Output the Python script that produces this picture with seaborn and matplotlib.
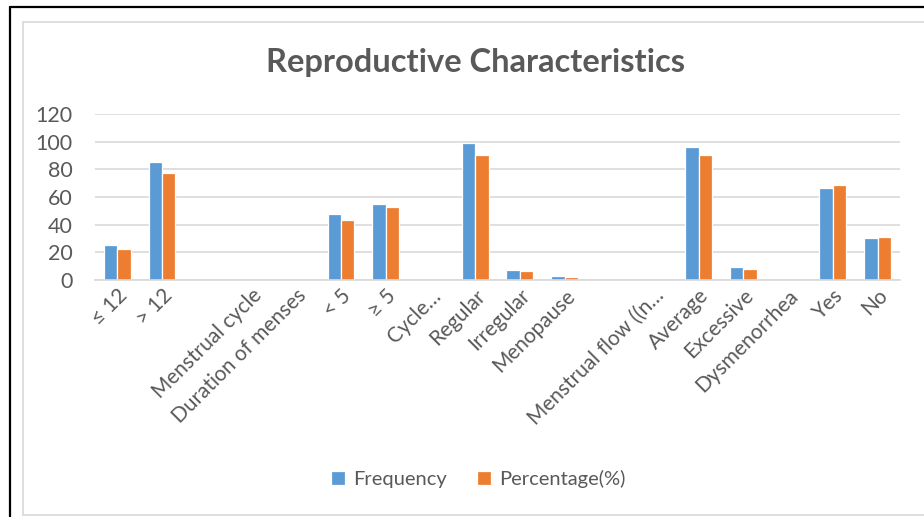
import matplotlib
matplotlib.use("Agg")
import matplotlib.pyplot as plt
import seaborn as sns
import pandas as pd
import numpy as np
from matplotlib.lines import Line2D

categories = ["≤ 12", "> 12", " ", "Menstrual cycle", "Duration of menses", "< 5", "≥ 5",
              "Cycle…", "Regular", "Irregular", "Menopause", "  ", "Menstrual flow ((n…",
              "Average", "Excessive", "Dysmenorrhea", "Yes", "No"]
frequency = [25, 85, np.nan, np.nan, np.nan, 47.5, 55, np.nan, 99.3, 7.5, 3, np.nan, np.nan,
             96.5, 9.2, np.nan, 66.5, 30.2]
percentage = [22.2, 77.6, np.nan, np.nan, np.nan, 43.2, 53, np.nan, 90.2, 6.5, 2.1, np.nan, np.nan,
              90.2, 8.2, np.nan, 68.5, 31.3]
series = ["Frequency", "Percentage(%)"]
yticks = [0, 20, 40, 60, 80, 100, 120]

df = pd.DataFrame({
    "cat": categories * 2,
    "value": frequency + percentage,
    "series": [series[0]] * len(categories) + [series[1]] * len(categories),
})

sns.set_theme(style="white")
plt.rcParams["font.family"] = ["Lato", "DejaVu Sans"]

fig = plt.figure(figsize=(9.24, 5.17), dpi=100)
ax = fig.add_axes([95 / 924, 237 / 517, 805 / 924, 166 / 517])

sns.barplot(data=df, x="cat", y="value", hue="series", order=categories,
            palette=["#5B9BD5", "#ED7D31"], saturation=1, width=0.6, edgecolor="white",
            linewidth=0.9, ax=ax, legend=True)

ax.set_ylim(0, 120)
ax.set_yticks(yticks)
ax.set_xlim(-0.5, len(categories) - 0.5)
ax.yaxis.grid(True, color="#d9d9d9", linewidth=1.2)
ax.set_axisbelow(True)
for s in ["left", "right", "top"]:
    ax.spines[s].set_visible(False)
ax.spines["bottom"].set_color("#d9d9d9")
ax.spines["bottom"].set_linewidth(1.2)
ax.set_xlabel("")
ax.set_ylabel("")
ax.tick_params(axis="y", length=0, labelsize=15.5, labelcolor="#595959", pad=16)
ax.tick_params(axis="x", length=0, labelsize=15, labelcolor="#595959", pad=4)
ax.set_xticks(range(len(categories)))
ax.set_xticklabels(categories, rotation=45, ha="right", rotation_mode="anchor")

ax.legend(loc="center", bbox_to_anchor=(478 / 924, 1 - 479 / 517),
          bbox_transform=fig.transFigure, ncol=2, frameon=False,
          fontsize=14.5, handlelength=0.7, handleheight=0.7, handletextpad=0.4,
          columnspacing=1.5, labelcolor="#595959")

fig.text(475 / 924, 1 - 63 / 517, "Reproductive Characteristics", ha="center", va="center",
         fontsize=23.5, fontweight="bold", color="#595959")

# chart borders
fig.add_artist(Line2D([9.5 / 924, 9.5 / 924], [0, 1 - 6.5 / 517], color="black", linewidth=1.6,
                      transform=fig.transFigure))
fig.add_artist(Line2D([9.5 / 924, 1], [1 - 6.5 / 517, 1 - 6.5 / 517], color="black", linewidth=1.6,
                      transform=fig.transFigure))
fig.add_artist(Line2D([22.5 / 924, 22.5 / 924], [1 - 515 / 517, 1 - 21.5 / 517], color="#d9d9d9",
                      linewidth=1.2, transform=fig.transFigure))
fig.add_artist(Line2D([22.5 / 924, 1], [1 - 21.5 / 517, 1 - 21.5 / 517], color="#d9d9d9",
                      linewidth=1.2, transform=fig.transFigure))
fig.add_artist(Line2D([22.5 / 924, 1], [1 - 515 / 517, 1 - 515 / 517], color="#d9d9d9",
                      linewidth=1.2, transform=fig.transFigure))

fig.savefig("out.png", dpi=100)
